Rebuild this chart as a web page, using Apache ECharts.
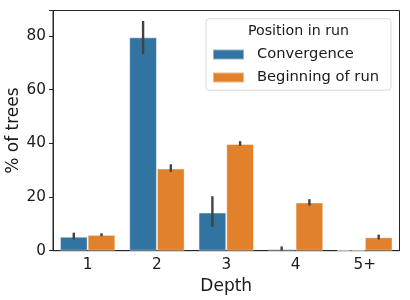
<!DOCTYPE html>
<html><head><meta charset="utf-8">
<script src="https://cdn.jsdelivr.net/npm/echarts@6/dist/echarts.min.js"></script>
<style>html,body{margin:0;padding:0;background:#fff}#c{width:410px;height:300px}</style>
</head><body><div id="c"></div>
<script>
const categories = ['1', '2', '3', '4', '5+'];
const convergence = [5.2, 79.5, 14.2, 0.6, 0.1];
const convergenceLow = [4.2, 73.2, 8.9, 0.0, 0.0];
const convergenceHigh = [6.7, 85.6, 20.3, 1.6, 0.2];
const beginning = [5.9, 30.6, 39.8, 18.0, 5.0];
const beginningLow = [5.4, 29.4, 39.1, 16.8, 4.2];
const beginningHigh = [6.5, 32.2, 40.8, 19.2, 6.0];
const yTicks = [0, 20, 40, 60, 80];

const FONT = '"DejaVu Sans", sans-serif';
const chart = echarts.init(document.getElementById('c'), null, {renderer: 'canvas'});

function errData(low, high) { return categories.map((c, i) => [i, low[i], high[i]]); }
function errSeries(name, low, high, offset) {
  return {
    type: 'custom', name: name + ' err', z: 10, silent: true,
    data: errData(low, high),
    renderItem: function (params, api) {
      const band = api.size([1, 0])[0];
      const x = api.coord([api.value(0), 0])[0] + offset * band;
      const y1 = api.coord([api.value(0), api.value(1)])[1];
      const y2 = api.coord([api.value(0), api.value(2)])[1];
      return {type: 'line', shape: {x1: x, y1: y1, x2: x, y2: y2},
        style: {stroke: '#424242', lineWidth: 2.4}};
    }
  };
}

chart.setOption({
  animation: false,
  grid: {left: 53, right: 10.5, top: 10.5, bottom: 49.3, containLabel: false, outerBoundsMode: 'none',
    show: true, borderColor: '#262626', borderWidth: 1, backgroundColor: 'transparent'},
  legend: {
    orient: 'vertical', left: 212, top: 47, padding: 0, itemWidth: 31, itemHeight: 10, itemGap: 8, z: 20,
    data: ['Convergence', 'Beginning of run'],
    textStyle: {fontFamily: FONT, fontSize: 14.7, color: '#1a1a1a', padding: [0, 0, 0, 8]},
    icon: 'rect'
  },
  graphic: [
    {type: 'rect', x: 206, y: 18.7, shape: {width: 185, height: 71.5, r: 3},
      style: {fill: 'rgba(255,255,255,0.8)', stroke: '#d9d9d9', lineWidth: 1}, z: 5},
    {type: 'text', x: 298.5, y: 31,
      style: {text: 'Position in run', fontFamily: FONT, fontSize: 14.2, fill: '#1a1a1a', align: 'center', verticalAlign: 'middle'}, z: 6}
  ],
  xAxis: {
    type: 'category', data: categories,
    name: 'Depth', nameLocation: 'middle', nameGap: 27, nameMoveOverlap: false,
    nameTextStyle: {fontFamily: FONT, fontSize: 17, color: '#1a1a1a'},
    axisLine: {lineStyle: {color: '#262626', width: 1}},
    axisTick: {alignWithLabel: true, length: 4, lineStyle: {color: '#262626'}},
    axisLabel: {fontFamily: FONT, fontSize: 15.3, color: '#1a1a1a', margin: 7}
  },
  yAxis: {
    type: 'value', min: 0, max: 89.5, interval: 20,
    name: '% of trees', nameLocation: 'middle', nameGap: 31, nameMoveOverlap: false,
    nameTextStyle: {fontFamily: FONT, fontSize: 17, color: '#1a1a1a'},
    axisLine: {show: true, lineStyle: {color: '#262626', width: 1}},
    axisTick: {show: true, length: 4, lineStyle: {color: '#262626'}},
    splitLine: {show: false},
    axisLabel: {fontFamily: FONT, fontSize: 15.3, color: '#1a1a1a', margin: 7,
      formatter: v => yTicks.includes(v) ? String(v) : ''}
  },
  series: [
    {type: 'bar', name: 'Convergence', data: convergence, barWidth: '40%', barGap: '0%',
      itemStyle: {color: '#3274A1', borderColor: 'rgba(255,255,255,0.45)', borderWidth: 1}},
    {type: 'bar', name: 'Beginning of run', data: beginning, barWidth: '40%', barGap: '0%',
      itemStyle: {color: '#E1812C', borderColor: 'rgba(255,255,255,0.45)', borderWidth: 1}},
    errSeries('Convergence', convergenceLow, convergenceHigh, -0.2),
    errSeries('Beginning of run', beginningLow, beginningHigh, 0.2)
  ]
});
</script></body></html>
